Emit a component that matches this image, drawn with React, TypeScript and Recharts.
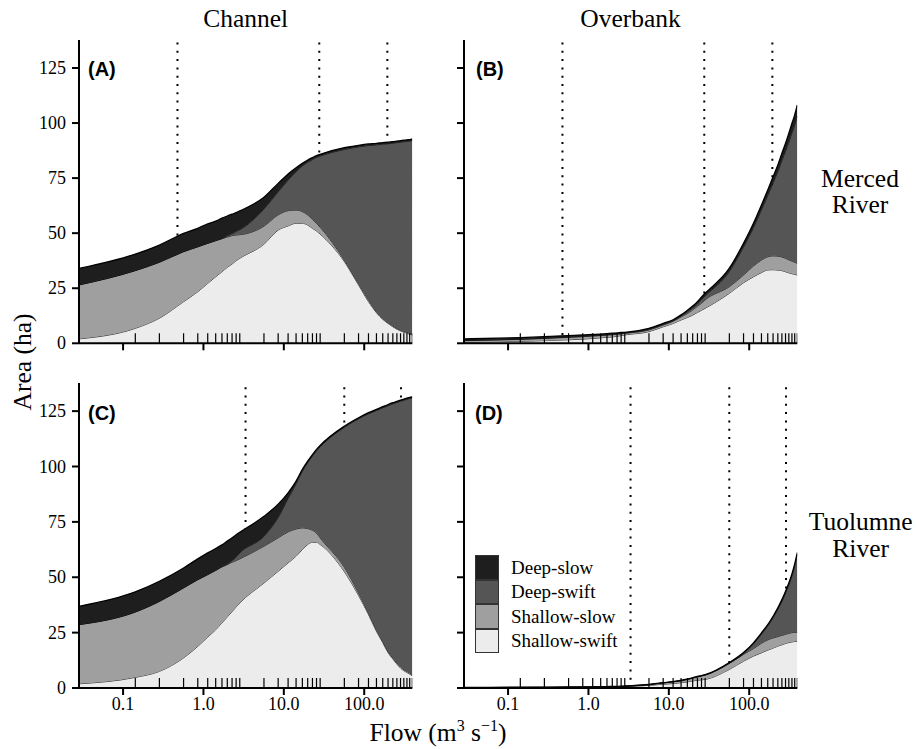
import React from "react";
import {
  Area,
  ComposedChart,
  Legend,
  ReferenceLine,
  Scatter,
  XAxis,
  YAxis,
} from "recharts";

// Modelled flows (m3/s) – 1, 5, 10, 20 ... 100, 200 ... 1000, 2000 ... 14000 cfs
const FLOWS = [
  0.0283, 0.142, 0.283, 0.566, 0.85, 1.13, 1.42, 1.7, 1.98, 2.27, 2.55, 2.83,
  5.66, 8.5, 11.3, 14.2, 17.0, 19.8, 22.7, 25.5, 28.3,
  56.6, 85.0, 113, 142, 170, 198, 227, 255, 283, 311, 340, 368, 396.4,
];

// (A) Merced River, channel – area per habitat class (ha)
const A_SHALLOW_SWIFT = [
  2.0, 6.8, 11.4, 18.9, 23.4, 27.2, 30.2, 32.5, 34.5, 36.0, 37.5, 38.6,
  45.0, 51.4, 53.3, 54.5, 54.5, 53.7, 52.2, 51.0, 49.6,
  37.1, 26.5, 18.9, 13.9, 10.9, 9.0, 7.5, 6.4, 5.6, 5.0, 4.6, 4.1, 3.8,
];
const A_SHALLOW_SLOW = [
  24.5, 26.2, 25.4, 22.7, 20.4, 18.2, 16.4, 15.0, 13.8, 12.9, 11.7, 10.7,
  8.2, 6.9, 6.9, 6.0, 5.3, 4.6, 4.1, 3.5, 3.1,
  0.7, 0.7, 0.8, 0.4, 0.4, 0.4, 0.4, 0.4, 0.4, 0.4, 0.4, 0.4, 0.4,
];
const A_DEEP_SWIFT = [
  0, 0, 0, 0, 0, 0, 0, 0.1, 0.5, 0.9, 1.6, 2.3,
  7.8, 10.5, 13.9, 17.4, 20.7, 23.9, 27.1, 29.9, 32.3,
  50.2, 62.0, 70.1, 75.8, 79.1, 81.2, 83.0, 84.3, 85.3, 86.1, 86.7, 87.3, 87.9,
];
const A_DEEP_SLOW = [
  7.5, 7.5, 7.8, 8.3, 8.4, 8.8, 8.9, 9.2, 9.0, 8.8, 8.5, 8.5,
  5.3, 3.8, 2.8, 1.8, 1.2, 1.0, 0.9, 0.8, 0.8,
  0.8, 0.7, 0.7, 0.7, 0.7, 0.7, 0.7, 0.7, 0.7, 0.7, 0.7, 0.7, 0.7,
];

// (B) Merced River, overbank
const B_SHALLOW_SWIFT = [
  0.5, 0.9, 1.2, 1.6, 1.9, 2.2, 2.5, 2.7, 2.9, 3.2, 3.5, 3.8,
  5.3, 7.5, 9.0, 10.6, 11.7, 12.8, 14.0, 15.0, 15.9,
  22.7, 27.5, 30.2, 32.1, 33.3, 33.4, 33.2, 33.0, 32.5, 32.0, 31.6, 31.3, 31.0,
];
const B_SHALLOW_SLOW = [
  0.7, 0.9, 1.0, 1.1, 1.1, 1.1, 1.0, 1.0, 1.0, 0.9, 0.8, 0.7,
  0.8, 0.8, 1.0, 1.4, 1.8, 2.4, 2.8, 3.2, 3.8,
  3.0, 3.5, 4.9, 5.7, 6.0, 6.3, 6.4, 6.2, 6.1, 5.9, 5.7, 5.5, 5.3,
];
const B_DEEP_SWIFT = [
  0.1, 0.1, 0.1, 0.2, 0.2, 0.2, 0.2, 0.2, 0.2, 0.2, 0.2, 0.2,
  0.3, 0.3, 0.3, 0.4, 0.8, 0.9, 1.1, 1.7, 1.8,
  6.9, 12.7, 17.4, 22.8, 27.8, 33.1, 38.4, 43.8, 48.6, 53.5, 58.3, 62.3, 66.9,
];
const B_DEEP_SLOW = [
  0.7, 0.7, 0.7, 0.6, 0.6, 0.5, 0.5, 0.5, 0.5, 0.4, 0.4, 0.3,
  0.4, 0.4, 0.4, 0.5, 0.7, 0.8, 1.0, 1.1, 1.2,
  1.5, 1.7, 2.0, 2.2, 2.5, 2.8, 3.0, 3.3, 3.6, 4.0, 4.3, 4.6, 5.0,
];

// (C) Tuolumne River, channel
const C_SHALLOW_SWIFT = [
  1.9, 4.8, 7.5, 13.6, 18.8, 23.0, 26.3, 29.4, 32.1, 34.5, 36.6, 38.4,
  47.4, 52.7, 56.5, 59.5, 62.5, 64.8, 65.8, 65.8, 64.8,
  52.5, 41.8, 33.2, 25.6, 20.5, 16.0, 13.1, 10.8, 9.0, 7.8, 7.0, 6.3, 5.5,
];
const C_SHALLOW_SLOW = [
  26.7, 29.5, 31.6, 31.6, 30.1, 28.2, 26.8, 25.3, 23.6, 22.3, 20.9, 19.9,
  16.6, 15.1, 14.0, 12.3, 9.8, 7.2, 5.4, 4.2, 3.0,
  2.0, 1.1, 0.7, 0.7, 0.6, 0.5, 0.5, 0.5, 0.5, 0.5, 0.5, 0.5, 0.5,
];
const C_DEEP_SWIFT = [
  0, 0, 0, 0, 0, 0, 0, 0.1, 0.3, 0.7, 1.7, 2.7,
  4.5, 9.2, 15.1, 20.4, 25.6, 29.7, 33.6, 37.1, 41.1,
  63.2, 78.6, 89.9, 99.0, 105.4, 111.0, 114.7, 117.6, 120.0, 121.6, 122.9, 123.9, 125.0,
];
const C_DEEP_SLOW = [
  8.3, 9.1, 9.1, 9.0, 9.4, 9.8, 9.9, 9.8, 10.3, 10.3, 10.0, 9.3,
  9.0, 6.0, 2.5, 1.2, 0.8, 0.7, 0.6, 0.6, 0.6,
  0.5, 0.5, 0.5, 0.5, 0.5, 0.5, 0.5, 0.5, 0.5, 0.5, 0.5, 0.5, 0.5,
];

// (D) Tuolumne River, overbank
const D_SHALLOW_SWIFT = [
  0.1, 0.15, 0.2, 0.25, 0.3, 0.35, 0.4, 0.45, 0.5, 0.55, 0.6, 0.65,
  1.2, 1.7, 2.0, 2.4, 2.8, 3.2, 3.5, 3.7, 3.9,
  8.4, 12.1, 14.4, 15.9, 17.1, 18.0, 18.9, 19.5, 20.1, 20.5, 20.8, 21.0, 21.1,
];
const D_SHALLOW_SLOW = [
  0.1, 0.1, 0.1, 0.1, 0.1, 0.1, 0.1, 0.1, 0.1, 0.1, 0.1, 0.15,
  0.3, 0.6, 0.8, 0.9, 1.1, 1.3, 1.5, 1.7, 1.9,
  2.7, 3.1, 3.4, 4.3, 4.6, 4.6, 4.3, 4.3, 4.1, 4.2, 4.2, 4.1, 4.0,
];
const D_DEEP_SWIFT = [
  0, 0, 0, 0, 0, 0, 0, 0, 0, 0, 0, 0,
  0, 0, 0, 0, 0, 0, 0, 0.1, 0.1,
  0.1, 0.3, 2.1, 4.1, 6.3, 9.1, 12.3, 15.3, 18.7, 21.9, 25.6, 30.0, 35.0,
];
const D_DEEP_SLOW = [
  0.1, 0.1, 0.1, 0.1, 0.1, 0.1, 0.1, 0.1, 0.1, 0.1, 0.1, 0.1,
  0.1, 0.1, 0.1, 0.2, 0.1, 0.1, 0.2, 0.1, 0.1,
  0.3, 0.5, 0.5, 0.6, 0.6, 0.7, 0.7, 0.8, 0.8, 0.8, 0.9, 0.9, 1.0,
];

// dotted flow thresholds (m3/s)
const MERCED_THRESHOLDS = [0.475, 27.6, 194];
const TUOLUMNE_THRESHOLDS = [3.34, 56.5, 287];

const X_TICKS = [0.1, 1, 10, 100];
const Y_TICKS = [0, 25, 50, 75, 100, 125];
const Y_MAX = 137.7;

// stacking order, bottom to top
const SERIES = [
  { key: "shallowSwift", name: "Shallow-swift", fill: "#ececec" },
  { key: "shallowSlow", name: "Shallow-slow", fill: "#9f9f9f" },
  { key: "deepSwift", name: "Deep-swift", fill: "#555555" },
  { key: "deepSlow", name: "Deep-slow", fill: "#1e1e1e" },
];
const LEGEND_ORDER = ["Deep-slow", "Deep-swift", "Shallow-slow", "Shallow-swift"];

const SERIF = "Liberation Serif";
const SANS = "Liberation Sans";

const PLOT_W = 333.3;
const Y_AXIS_W = 60;
const X_AXIS_H = 40;
const TOP_PAD = 5;
const RIGHT_PAD = 5;

const RugMark = (props: any) => {
  const { cx, cy } = props;
  if (cx == null || cy == null) return null;
  return <line x1={cx} x2={cx} y1={cy} y2={cy - 10} stroke="#000" strokeWidth={1.2} />;
};

const XTick = ({ x, y, payload, show }: any) =>
  show ? (
    <text x={x} y={y} dy={13} textAnchor="middle" fontFamily={SERIF} fontSize={18} fill="#000">
      {Number(payload.value).toFixed(1)}
    </text>
  ) : null;

const YTick = ({ x, y, payload, show }: any) =>
  show ? (
    <text x={x} y={y} dy={6} textAnchor="end" fontFamily={SERIF} fontSize={18} fill="#000">
      {payload.value}
    </text>
  ) : null;

const LegendBox = (props: any) => {
  const items = [...(props.payload || [])]
    .filter((p: any) => LEGEND_ORDER.includes(p.value))
    .sort((a: any, b: any) => LEGEND_ORDER.indexOf(a.value) - LEGEND_ORDER.indexOf(b.value));
  return (
    <div style={{ fontFamily: SERIF, fontSize: 19, color: "#000" }}>
      {items.map((it: any) => {
        const s = SERIES.find((x) => x.name === it.value);
        return (
          <div key={it.value} style={{ display: "flex", alignItems: "center", height: 24.5 }}>
            <div
              style={{
                width: 22,
                height: 22.5,
                background: s ? s.fill : "#fff",
                border: "1px solid #333",
                marginRight: 12,
              }}
            />
            <span style={{ whiteSpace: "nowrap" }}>{it.value}</span>
          </div>
        );
      })}
    </div>
  );
};

interface PanelProps {
  left: number;
  top: number;
  plotHeight: number;
  shallowSwift: number[];
  shallowSlow: number[];
  deepSwift: number[];
  deepSlow: number[];
  thresholds: number[];
  xLabels?: boolean;
  yLabels?: boolean;
  legend?: boolean;
}

const Panel: React.FC<PanelProps> = ({
  left,
  top,
  plotHeight,
  shallowSwift,
  shallowSlow,
  deepSwift,
  deepSlow,
  thresholds,
  xLabels,
  yLabels,
  legend,
}) => {
  const data = FLOWS.map((q, i) => ({
    q,
    shallowSwift: shallowSwift[i],
    shallowSlow: shallowSlow[i],
    deepSwift: deepSwift[i],
    deepSlow: deepSlow[i],
  }));
  const rug = FLOWS.map((q) => ({ q, base: 0 }));
  const width = Y_AXIS_W + PLOT_W + RIGHT_PAD;
  const height = TOP_PAD + plotHeight + X_AXIS_H;
  const margin = { top: TOP_PAD, right: RIGHT_PAD, bottom: 0, left: 0 };
  const xDomain = [FLOWS[0], FLOWS[FLOWS.length - 1]];
  const layer: React.CSSProperties = { position: "absolute", left: 0, top: 0 };

  return (
    <div style={{ position: "absolute", left: left - Y_AXIS_W, top: top - TOP_PAD, width, height }}>
      {/* threshold lines sit behind the stacked areas */}
      <div style={layer}>
        <ComposedChart width={width} height={height} data={data} margin={margin}>
          <XAxis
            dataKey="q"
            type="number"
            scale="log"
            domain={xDomain}
            allowDataOverflow
            height={X_AXIS_H}
            axisLine={false}
            tickLine={false}
            tick={false}
          />
          <YAxis
            type="number"
            domain={[0, Y_MAX]}
            allowDataOverflow
            width={Y_AXIS_W}
            axisLine={false}
            tickLine={false}
            tick={false}
          />
          {thresholds.map((t) => (
            <ReferenceLine key={t} x={t} stroke="#000" strokeWidth={2} strokeDasharray="2 6.3" />
          ))}
        </ComposedChart>
      </div>
      <div style={layer}>
        <ComposedChart width={width} height={height} data={data} margin={margin}>
          <XAxis
            dataKey="q"
            type="number"
            scale="log"
            domain={xDomain}
            allowDataOverflow
            ticks={X_TICKS}
            height={X_AXIS_H}
            axisLine={{ stroke: "#000", strokeWidth: 2 }}
            tickLine={{ stroke: "#000", strokeWidth: 2 }}
            tickSize={7}
            tick={(p: any) => <XTick {...p} show={xLabels} />}
          />
          <YAxis
            type="number"
            domain={[0, Y_MAX]}
            allowDataOverflow
            ticks={Y_TICKS}
            width={Y_AXIS_W}
            axisLine={{ stroke: "#000", strokeWidth: 2 }}
            tickLine={{ stroke: "#000", strokeWidth: 2 }}
            tickSize={7}
            tickMargin={6}
            tick={(p: any) => <YTick {...p} show={yLabels} />}
          />
          {SERIES.map((s) => (
            <Area
              key={s.key}
              dataKey={s.key}
              name={s.name}
              stackId="habitat"
              type="monotone"
              fill={s.fill}
              fillOpacity={1}
              stroke="#000"
              strokeWidth={s.key === "deepSlow" ? 1.3 : 0.8}
              isAnimationActive={false}
            />
          ))}
          <Scatter
            data={rug}
            dataKey="base"
            shape={RugMark}
            legendType="none"
            isAnimationActive={false}
          />
          {legend && (
            <Legend
              layout="vertical"
              align="center"
              verticalAlign="middle"
              content={LegendBox}
              wrapperStyle={{ left: 71, top: 177, width: 180, height: 100 }}
            />
          )}
        </ComposedChart>
      </div>
    </div>
  );
};

export default function App() {
  return (
    <div
      style={{
        position: "absolute",
        left: 0,
        top: 0,
        width: 917,
        height: 749,
        background: "#fff",
        fontFamily: SERIF,
      }}
    >
      <Panel
        left={79}
        top={40}
        plotHeight={303.3}
        shallowSwift={A_SHALLOW_SWIFT}
        shallowSlow={A_SHALLOW_SLOW}
        deepSwift={A_DEEP_SWIFT}
        deepSlow={A_DEEP_SLOW}
        thresholds={MERCED_THRESHOLDS}
        yLabels
      />
      <Panel
        left={464}
        top={40}
        plotHeight={303.3}
        shallowSwift={B_SHALLOW_SWIFT}
        shallowSlow={B_SHALLOW_SLOW}
        deepSwift={B_DEEP_SWIFT}
        deepSlow={B_DEEP_SLOW}
        thresholds={MERCED_THRESHOLDS}
      />
      <Panel
        left={79}
        top={383.3}
        plotHeight={305}
        shallowSwift={C_SHALLOW_SWIFT}
        shallowSlow={C_SHALLOW_SLOW}
        deepSwift={C_DEEP_SWIFT}
        deepSlow={C_DEEP_SLOW}
        thresholds={TUOLUMNE_THRESHOLDS}
        xLabels
        yLabels
      />
      <Panel
        left={464}
        top={383.3}
        plotHeight={305}
        shallowSwift={D_SHALLOW_SWIFT}
        shallowSlow={D_SHALLOW_SLOW}
        deepSwift={D_DEEP_SWIFT}
        deepSlow={D_DEEP_SLOW}
        thresholds={TUOLUMNE_THRESHOLDS}
        xLabels
        legend
      />

      {/* titles, axis names and panel tags */}
      <svg
        width={917}
        height={749}
        style={{ position: "absolute", left: 0, top: 0, pointerEvents: "none" }}
        fontFamily={SERIF}
        fontSize={25.5}
        fill="#000"
      >
        <text x={245.7} y={27} textAnchor="middle">Channel</text>
        <text x={630.5} y={27} textAnchor="middle">Overbank</text>
        <text x={860} y={186.7} textAnchor="middle">Merced</text>
        <text x={860} y={213.3} textAnchor="middle">River</text>
        <text x={860.7} y={530} textAnchor="middle">Tuolumne</text>
        <text x={860.7} y={557.3} textAnchor="middle">River</text>
        <text transform="translate(31,362) rotate(-90)" textAnchor="middle">
          Area (ha)
        </text>
        <text x={438} y={741} textAnchor="middle">
          Flow (m
          <tspan dy={-10} fontSize={16}>3</tspan>
          <tspan dy={10}> s</tspan>
          <tspan dy={-10} fontSize={16}>{"\u22121"}</tspan>
          <tspan dy={10}>)</tspan>
        </text>
        <g fontFamily={SANS} fontWeight="bold" fontSize={20}>
          <text x={88} y={76}>(A)</text>
          <text x={476} y={76}>(B)</text>
          <text x={88} y={420}>(C)</text>
          <text x={475} y={420}>(D)</text>
        </g>
      </svg>
    </div>
  );
}
